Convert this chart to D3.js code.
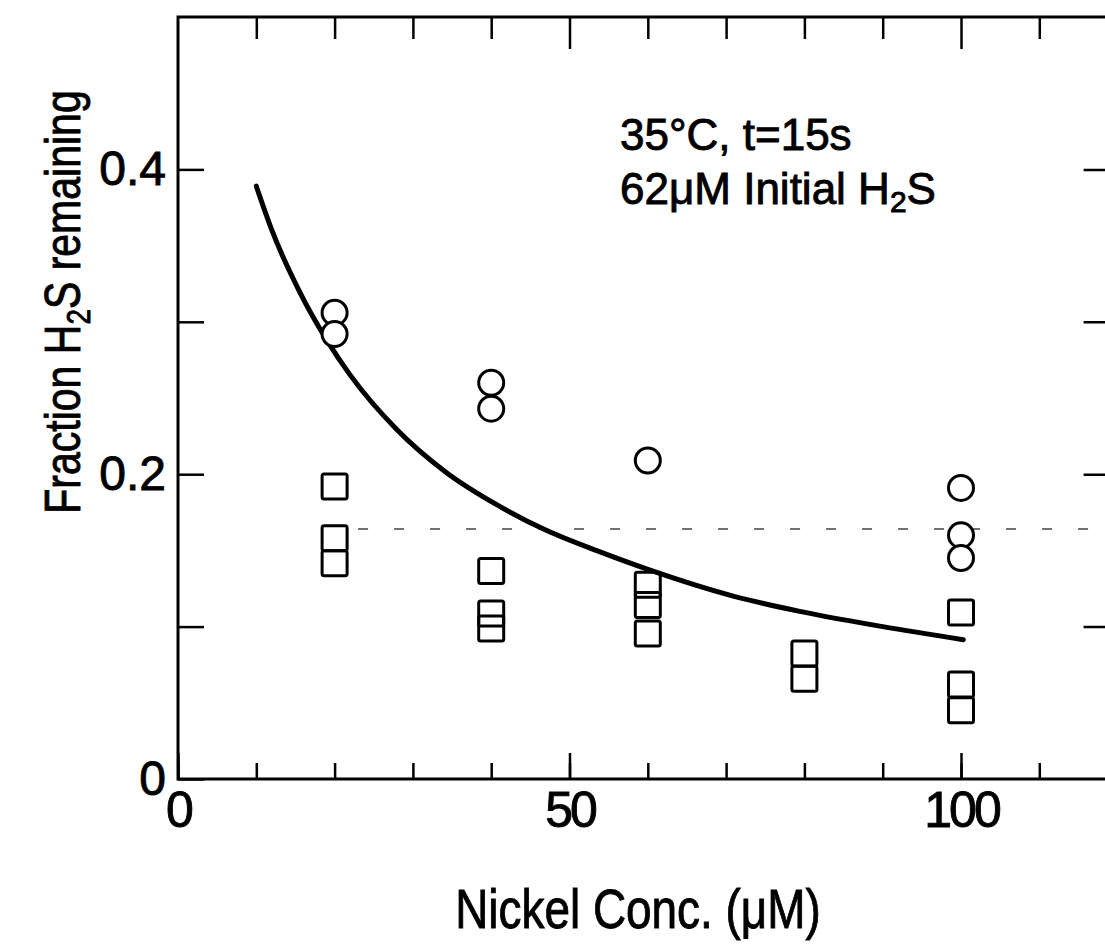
<!DOCTYPE html>
<html>
<head>
<meta charset="utf-8">
<script src="https://cdn.jsdelivr.net/npm/d3@7"></script>
<style>
  html, body { margin: 0; padding: 0; background: #fff; }
  svg { display: block; }
  text { font-family: "Liberation Sans", Arial, sans-serif; fill: #000; stroke: #000; stroke-width: 0.9; }
</style>
</head>
<body>
<svg id="chart" width="1105" height="949"></svg>
<script>
// Data (35 °C, t = 15 s, 62 µM initial H2S)
const circleX = [20, 20, 40, 40, 60, 100, 100, 100];
const circleY = [0.306, 0.292, 0.260, 0.243, 0.209, 0.191, 0.160, 0.145];

const squareX = [20, 20, 20, 40, 40, 40, 60, 60, 60, 80, 80, 100, 100, 100];
const squareY = [0.192, 0.158, 0.1415, 0.1365, 0.1086, 0.0987, 0.1274, 0.1142, 0.0955,
                 0.0823, 0.0658, 0.1093, 0.0620, 0.0451];

// fitted curve
const curveX = [10, 12, 15.6, 19, 22, 28, 34.3, 40.7, 47.1, 53.9, 60.3, 70.9, 79.4, 90, 100.3];
const curveY = [0.389, 0.360, 0.319, 0.288, 0.265, 0.229, 0.201, 0.180, 0.163, 0.149,
                0.137, 0.120, 0.110, 0.100, 0.0914];

const refLineY = 0.164;   // faint dashed line across the plot

const xTicksMinor = d3.range(0, 121, 10);
const xTicksMajor = [0, 50, 100];
const yTicksMinor = [0, 0.1, 0.2, 0.3, 0.4];
const yTicksMajor = [0, 0.2, 0.4];

const svg = d3.select("#chart");

const x = d3.scaleLinear().domain([0, 120]).range([178, 178 + 120 * 7.83]);
const y = d3.scaleLinear().domain([0, 0.5]).range([779, 17]);

const [x0, x1] = x.range();
const [y0, y1] = y.range();

// ---- ticks (all pointing inward) ----
function styleAxis(g) {
  g.select(".domain").remove();
  g.selectAll(".tick line").attr("stroke", "#000").attr("stroke-width", 2.5);
}
function styleLabels(size, spacing) {
  return g => g.selectAll("text")
    .attr("font-family", null)
    .attr("font-size", size)
    .attr("letter-spacing", spacing)
    .attr("fill", "#000");
}

svg.append("g").attr("transform", `translate(0,${y0})`)
  .call(d3.axisBottom(x).tickValues(xTicksMinor).tickSize(-16).tickFormat(""))
  .call(styleAxis);
svg.append("g").attr("transform", `translate(0,${y0})`)
  .call(d3.axisBottom(x).tickValues(xTicksMajor).tickSize(-26).tickPadding(12))
  .call(styleAxis)
  .call(styleLabels(50, -3));

svg.append("g").attr("transform", `translate(0,${y1})`)
  .call(d3.axisTop(x).tickValues(xTicksMinor.filter(d => d % 50 !== 0)).tickSize(-22).tickFormat(""))
  .call(styleAxis);
svg.append("g").attr("transform", `translate(0,${y1})`)
  .call(d3.axisTop(x).tickValues([50, 100]).tickSize(-32).tickFormat(""))
  .call(styleAxis);

svg.append("g").attr("transform", `translate(${x0},0)`)
  .call(d3.axisLeft(y).tickValues(yTicksMinor).tickSize(-26).tickFormat(""))
  .call(styleAxis);
svg.append("g").attr("transform", `translate(${x0},0)`)
  .call(d3.axisLeft(y).tickValues(yTicksMajor).tickSize(0).tickPadding(12)
    .tickFormat(d => d === 0 ? "0" : d.toFixed(1)))
  .call(styleAxis)
  .call(styleLabels(48, 0));

svg.append("g").attr("transform", `translate(${x1},0)`)
  .call(d3.axisRight(y).tickValues(yTicksMinor.slice(1)).tickSize(-34).tickFormat(""))
  .call(styleAxis);

// ---- frame ----
svg.append("rect")
  .attr("x", x0).attr("y", y1)
  .attr("width", x1 - x0).attr("height", y0 - y1)
  .attr("fill", "none").attr("stroke", "#000").attr("stroke-width", 3);

// ---- faint dashed line ----
svg.append("line")
  .attr("x1", x(23)).attr("x2", x(120))
  .attr("y1", y(refLineY)).attr("y2", y(refLineY))
  .attr("stroke", "#444").attr("stroke-width", 1.5)
  .attr("stroke-dasharray", "10,26");

// ---- curve ----
const line = d3.line().x(d => x(d[0])).y(d => y(d[1])).curve(d3.curveMonotoneX);
svg.append("path")
  .datum(curveX.map((v, i) => [v, curveY[i]]))
  .attr("d", line)
  .attr("fill", "none").attr("stroke", "#000").attr("stroke-width", 5)
  .attr("stroke-linecap", "round");

// ---- markers ----
svg.append("g").selectAll("circle")
  .data(circleX.map((v, i) => [v, circleY[i]]))
  .join("circle")
  .attr("cx", d => x(d[0])).attr("cy", d => y(d[1])).attr("r", 12.5)
  .attr("fill", "#fff").attr("stroke", "#000").attr("stroke-width", 3);

const sq = 25;
svg.append("g").selectAll("rect")
  .data(squareX.map((v, i) => [v, squareY[i]]))
  .join("rect")
  .attr("x", d => x(d[0]) - sq / 2).attr("y", d => y(d[1]) - sq / 2)
  .attr("width", sq).attr("height", sq).attr("rx", 2)
  .attr("fill", "none").attr("stroke", "#000").attr("stroke-width", 3);

// ---- annotation ----
const ann = svg.append("g").attr("font-size", 44);
ann.append("text").attr("x", 620).attr("y", 150).text("35°C, t=15s");
const ann2 = ann.append("text").attr("x", 620).attr("y", 204);
ann2.append("tspan").text("62μM  Initial H");
ann2.append("tspan").attr("font-size", 30).attr("dy", 8).text("2");
ann2.append("tspan").attr("dy", -8).text("S");

// ---- axis titles (lettering in the original is condensed) ----
svg.append("g").attr("transform", "translate(638,928) scale(0.82,1)")
  .append("text")
  .attr("text-anchor", "middle").attr("font-size", 56)
  .text("Nickel Conc. (μM)");

const yt = svg.append("g").attr("transform", "translate(80,302) rotate(-90) scale(0.82,1)")
  .append("text")
  .attr("text-anchor", "middle").attr("font-size", 50);
yt.append("tspan").text("Fraction H");
yt.append("tspan").attr("font-size", 34).attr("dy", 10).text("2");
yt.append("tspan").attr("dy", -10).text("S remaining");
</script>
</body>
</html>
